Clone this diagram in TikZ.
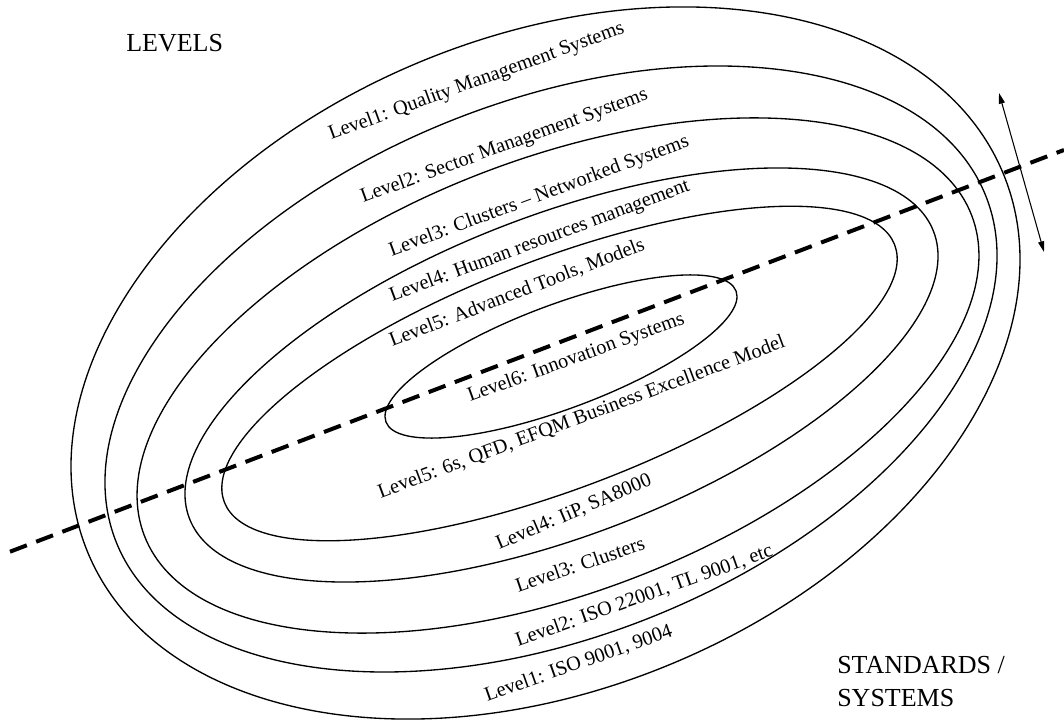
\documentclass[tikz,border=0pt]{standalone}
\usepackage{fontspec}
\setmainfont{Liberation Serif}
\usetikzlibrary{arrows.meta}
\begin{document}
\begin{tikzpicture}[x=0.75pt, y=-0.75pt,
  contour/.style={draw=black, line width=1pt},
  axisline/.style={draw=black, line width=3pt, dash pattern=on 13.5pt off 7.5pt},
  lbl/.style={inner sep=0pt, anchor=base west, font=\fontsize{15.2pt}{18pt}\selectfont},
  heading/.style={inner sep=0pt, anchor=base west, font=\fontsize{19.5pt}{24pt}\selectfont},
  twoway/.style={draw=black, line width=0.8pt, {Triangle[length=8pt,width=4.5pt]}-{Triangle[length=8pt,width=4.5pt]}}]
\useasboundingbox (0,0) rectangle (1064,720);

% nested level contours, outermost first
\draw[contour, rotate around={22.5:(545.5,363)}] (545.5,363) ellipse [x radius=495.4, y radius=326.2];
\draw[contour, rotate around={21.7:(551,369)}] (551,369) ellipse [x radius=468.0, y radius=267.7];
\draw[contour, rotate around={21.2:(558,375.5)}] (558,375.5) ellipse [x radius=443.6, y radius=216.2];
\draw[contour, rotate around={21.1:(561.5,375)}] (561.5,375) ellipse [x radius=398.8, y radius=159.9];
\draw[contour, rotate around={21.0:(559.5,373.5)}] (559.5,373.5) ellipse [x radius=359.0, y radius=114.5];
\draw[contour, rotate around={20.5:(561,356.5)}] (561,356.5) ellipse [x radius=186.9, y radius=52.0];

% dashed dividing axis
\coordinate (axisW) at (10,551.7);
\coordinate (axisE) at (1064,150);
\draw[axisline] (axisW) -- (axisE);

% double arrow on the right
\coordinate (arrTop) at (999,93);
\coordinate (arrBot) at (1044,252);
\draw[twoway] (arrTop) -- (arrBot);

% headings
\node[heading] (levels) at (126,52) {LEVELS};
\node[heading] (stdA) at (837,673) {STANDARDS /};
\node[heading] (stdB) at (837,706) {SYSTEMS};

% upper labels (levels)
\node[lbl, rotate=20] (up1) at (331,140) {Level1: Quality Management Systems};
\node[lbl, rotate=20] (up2) at (363,203) {Level2: Sector Management Systems};
\node[lbl, rotate=20.3] (up3) at (391.5,256.5) {Level3: Clusters -- Networked Systems};
\node[lbl, rotate=20.5] (up4) at (392,302) {Level4: Human resources management};
\node[lbl, rotate=21] (up5) at (392,347) {Level5: Advanced Tools, Models};
\node[lbl, rotate=20] (up6) at (470,402) {Level6: Innovation Systems};

% lower labels (standards / systems)
\node[lbl, rotate=20.5] (lo5) at (380.5,498.5) {Level5: 6s, QFD, EFQM Business Excellence Model};
\node[lbl, rotate=23] (lo4) at (499,550) {Level4: IiP, SA8000};
\node[lbl, rotate=19] (lo3) at (518,593) {Level3: Clusters};
\node[lbl, rotate=19.6] (lo2) at (518,647) {Level2: ISO 22001, TL 9001, etc};
\node[lbl, rotate=19.5] (lo1) at (487,702) {Level1: ISO 9001, 9004};
\end{tikzpicture}
\end{document}
